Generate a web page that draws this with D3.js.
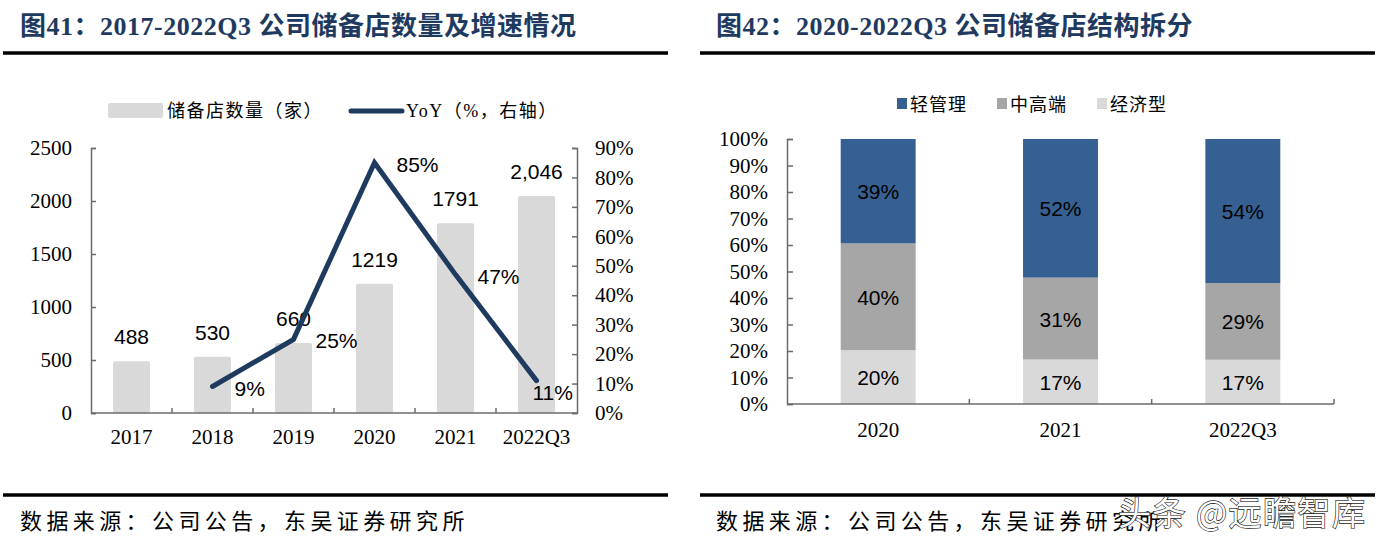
<!DOCTYPE html>
<html>
<head>
<meta charset="utf-8">
<script src="https://cdn.jsdelivr.net/npm/d3@7"></script>
<style>
  html, body { margin: 0; padding: 0; background: #fff; }
  svg { display: block; }
</style>
</head>
<body>
<svg id="chart" width="1389" height="540"></svg>
<script>
// ---------- data ----------
const storeYears = ["2017", "2018", "2019", "2020", "2021", "2022Q3"];
const storeCounts = [488, 530, 660, 1219, 1791, 2046];
const storeCountLabels = ["488", "530", "660", "1219", "1791", "2,046"];
const yoyValues = [null, 0.09, 0.25, 0.85, 0.47, 0.11];
const leftTicks = [0, 500, 1000, 1500, 2000, 2500];
const rightTicks = [0, 0.1, 0.2, 0.3, 0.4, 0.5, 0.6, 0.7, 0.8, 0.9];

const structYears = ["2020", "2021", "2022Q3"];
const seriesNames = ["经济型", "中高端", "轻管理"];      // stack order bottom -> top
const legendOrder = ["轻管理", "中高端", "经济型"];
const economyShare = [0.203, 0.168, 0.167];
const midHighShare = [0.403, 0.309, 0.289];
const lightShare = [0.394, 0.523, 0.544];
const pctTicks = [0, 0.1, 0.2, 0.3, 0.4, 0.5, 0.6, 0.7, 0.8, 0.9, 1.0];

const title1 = "图41：2017-2022Q3 公司储备店数量及增速情况";
const title2 = "图42：2020-2022Q3 公司储备店结构拆分";
const sourceText = "数据来源：公司公告，东吴证券研究所";
const watermarkText = "头条 @远瞻智库";

// ---------- styles ----------
const serif = "'Liberation Serif','Times New Roman','Noto Sans CJK SC',serif";
const cjk = "'Liberation Serif','Noto Sans CJK SC',sans-serif";
const sans = "'Liberation Sans',Arial,sans-serif";
const navy = "#1f3a5f";
const axisColor = "#6b6b6b";
const colors = { "轻管理": "#376092", "中高端": "#a6a6a6", "经济型": "#d9d9d9" };

const svg = d3.select("#chart");

// ---------- titles, rules, sources ----------
function header(x, text, lx1, lx2) {
  svg.append("text").attr("x", x).attr("y", 35)
    .attr("font-family", cjk).attr("font-weight", "bold").attr("font-size", 26)
    .attr("letter-spacing", 0.5)
    .attr("fill", navy).text(text);
  svg.append("line").attr("x1", lx1).attr("x2", lx2).attr("y1", 53).attr("y2", 53)
    .attr("stroke", "#000").attr("stroke-width", 3.5);
  svg.append("line").attr("x1", lx1).attr("x2", lx2).attr("y1", 495).attr("y2", 495)
    .attr("stroke", "#000").attr("stroke-width", 3.5);
  svg.append("text").attr("x", x).attr("y", 529)
    .attr("font-family", cjk).attr("font-size", 22).attr("letter-spacing", 4.4)
    .attr("fill", "#000").text(sourceText);
}
header(20, title1, 3, 668);
header(716, title2, 700, 1375);

// ---------- left chart ----------
const L = { x0: 91, x1: 577, yTop: 148, yBot: 413 };
const xL = d3.scaleBand().domain(storeYears).range([L.x0, L.x1])
  .paddingInner(0.543).paddingOuter(0.2715);
const stepL = xL.step();
const yL = d3.scaleLinear().domain([0, 2500]).range([L.yBot, L.yTop]);
const yR = d3.scaleLinear().domain([0, 0.9]).range([L.yBot, L.yTop]);

const gL = svg.append("g");
// bars
gL.selectAll("rect.bar").data(storeYears).enter().append("rect")
  .attr("x", d => xL(d)).attr("width", xL.bandwidth())
  .attr("y", (d, i) => yL(storeCounts[i]))
  .attr("height", (d, i) => L.yBot - yL(storeCounts[i]))
  .attr("rx", 2).attr("fill", "#d9d9d9");
// bar labels
gL.selectAll("text.blab").data(storeYears).enter().append("text")
  .attr("x", d => xL(d) + xL.bandwidth() / 2)
  .attr("y", (d, i) => yL(storeCounts[i]) - 17)
  .attr("text-anchor", "middle").attr("font-family", sans).attr("font-size", 21)
  .attr("fill", "#000").text((d, i) => storeCountLabels[i]);

// axes
const axLeft = d3.axisLeft(yL).tickValues(leftTicks).tickSize(-5).tickPadding(19).tickFormat(d3.format("d"));
const gAxL = gL.append("g").attr("transform", `translate(${L.x0},0)`).call(axLeft);
const axRight = d3.axisRight(yR).tickValues(rightTicks).tickSize(-5).tickPadding(18).tickFormat(d3.format(".0%"));
const gAxR = gL.append("g").attr("transform", `translate(${L.x1},0)`).call(axRight);
[gAxL, gAxR].forEach(g => {
  g.select(".domain").attr("stroke", axisColor).attr("stroke-width", 1.5);
  g.selectAll(".tick line").attr("stroke", axisColor).attr("stroke-width", 1.5);
  g.selectAll(".tick text").attr("font-family", serif).attr("font-size", 21).attr("fill", "#000");
});
// x axis
gL.append("line").attr("x1", L.x0).attr("x2", L.x1).attr("y1", L.yBot).attr("y2", L.yBot)
  .attr("stroke", axisColor).attr("stroke-width", 1.5);
gL.selectAll("line.xt").data(d3.range(1, storeYears.length)).enter().append("line")
  .attr("x1", i => L.x0 + i * stepL).attr("x2", i => L.x0 + i * stepL)
  .attr("y1", L.yBot).attr("y2", L.yBot - 5)
  .attr("stroke", axisColor).attr("stroke-width", 1.5);
gL.selectAll("text.xl").data(storeYears).enter().append("text")
  .attr("x", d => xL(d) + xL.bandwidth() / 2).attr("y", 444)
  .attr("text-anchor", "middle").attr("font-family", serif).attr("font-size", 21)
  .attr("fill", "#000").text(d => d);

// YoY line
const yoyPts = storeYears.map((d, i) => ({ x: xL(d) + xL.bandwidth() / 2, v: yoyValues[i], i }))
  .filter(p => p.v !== null);
const line = d3.line().x(p => p.x).y(p => yR(p.v));
gL.append("path").attr("d", line(yoyPts)).attr("fill", "none")
  .attr("stroke", navy).attr("stroke-width", 5)
  .attr("stroke-linecap", "round").attr("stroke-linejoin", "miter");
gL.selectAll("text.yl").data(yoyPts).enter().append("text")
  .attr("x", (p, k) => k === yoyPts.length - 1 ? p.x - 4 : p.x + 22)
  .attr("y", (p, k) => yR(p.v) + (k === yoyPts.length - 1 ? 19 : 9))
  .attr("font-family", sans).attr("font-size", 21).attr("fill", "#000")
  .text(p => d3.format(".0%")(p.v));

// left legend
gL.append("rect").attr("x", 108).attr("y", 103).attr("width", 55).attr("height", 15)
  .attr("rx", 2).attr("fill", "#d9d9d9");
gL.append("text").attr("x", 167).attr("y", 117).attr("font-family", cjk).attr("font-size", 18)
  .attr("letter-spacing", 1.5).text("储备店数量（家）");
gL.append("line").attr("x1", 351).attr("x2", 402).attr("y1", 111).attr("y2", 111)
  .attr("stroke", navy).attr("stroke-width", 5).attr("stroke-linecap", "round");
gL.append("text").attr("x", 406).attr("y", 117).attr("font-family", cjk).attr("font-size", 18)
  .attr("letter-spacing", 1.5).text("YoY（%，右轴）");

// ---------- right chart ----------
const R = { x0: 787, x1: 1334, yTop: 139, yBot: 404 };
const xS = d3.scaleBand().domain(structYears).range([R.x0, R.x1])
  .paddingInner(0.589).paddingOuter(0.2945);
const stepS = xS.step();
const yS = d3.scaleLinear().domain([0, 1]).range([R.yBot, R.yTop]);

const shareData = structYears.map((d, i) => ({
  year: d, "经济型": economyShare[i], "中高端": midHighShare[i], "轻管理": lightShare[i]
}));
const stacked = d3.stack().keys(seriesNames)(shareData);
const gR = svg.append("g");
stacked.forEach(layer => {
  const key = layer.key;
  gR.selectAll(null).data(layer).enter().append("rect")
    .attr("x", d => xS(d.data.year)).attr("width", xS.bandwidth())
    .attr("y", d => yS(d[1])).attr("height", d => yS(d[0]) - yS(d[1]))
    .attr("fill", colors[key]);
  gR.selectAll(null).data(layer).enter().append("text")
    .attr("x", d => xS(d.data.year) + xS.bandwidth() / 2)
    .attr("y", d => (yS(d[0]) + yS(d[1])) / 2 + 8)
    .attr("text-anchor", "middle").attr("font-family", sans).attr("font-size", 21)
    .attr("fill", "#000").text(d => d3.format(".0%")(d.data[key]));
});
const axS = d3.axisLeft(yS).tickValues(pctTicks).tickSize(-6).tickPadding(19).tickFormat(d3.format(".0%"));
const gAxS = gR.append("g").attr("transform", `translate(${R.x0},0)`).call(axS);
gAxS.select(".domain").attr("stroke", axisColor).attr("stroke-width", 1.5);
gAxS.selectAll(".tick line").attr("stroke", axisColor).attr("stroke-width", 1.5);
gAxS.selectAll(".tick text").attr("font-family", serif).attr("font-size", 21).attr("fill", "#000");
gR.append("line").attr("x1", R.x0).attr("x2", R.x1).attr("y1", R.yBot).attr("y2", R.yBot)
  .attr("stroke", axisColor).attr("stroke-width", 1.5);
gR.selectAll("line.xt").data(d3.range(1, structYears.length + 1)).enter().append("line")
  .attr("x1", i => R.x0 + i * stepS).attr("x2", i => R.x0 + i * stepS)
  .attr("y1", R.yBot).attr("y2", R.yBot - 5)
  .attr("stroke", axisColor).attr("stroke-width", 1.5);
gR.selectAll("text.xl").data(structYears).enter().append("text")
  .attr("x", d => xS(d) + xS.bandwidth() / 2).attr("y", 437)
  .attr("text-anchor", "middle").attr("font-family", serif).attr("font-size", 21)
  .attr("fill", "#000").text(d => d);

// right legend
const legX = [897, 997, 1097];
legendOrder.forEach((name, i) => {
  gR.append("rect").attr("x", legX[i]).attr("y", 98).attr("width", 10).attr("height", 11)
    .attr("fill", colors[name]);
  gR.append("text").attr("x", legX[i] + 13).attr("y", 111).attr("font-family", cjk)
    .attr("font-size", 18).attr("letter-spacing", 1).text(name);
});

// watermark (overlaps the source line, as in the reference)
svg.append("text").attr("x", 1118).attr("y", 525).attr("font-family", "'Noto Sans CJK SC',sans-serif")
  .attr("font-size", 33).attr("letter-spacing", 1.5)
  .attr("fill", "#fff").attr("stroke", "#222").attr("stroke-width", 1.3)
  .attr("paint-order", "stroke").text(watermarkText);
</script>
</body>
</html>
